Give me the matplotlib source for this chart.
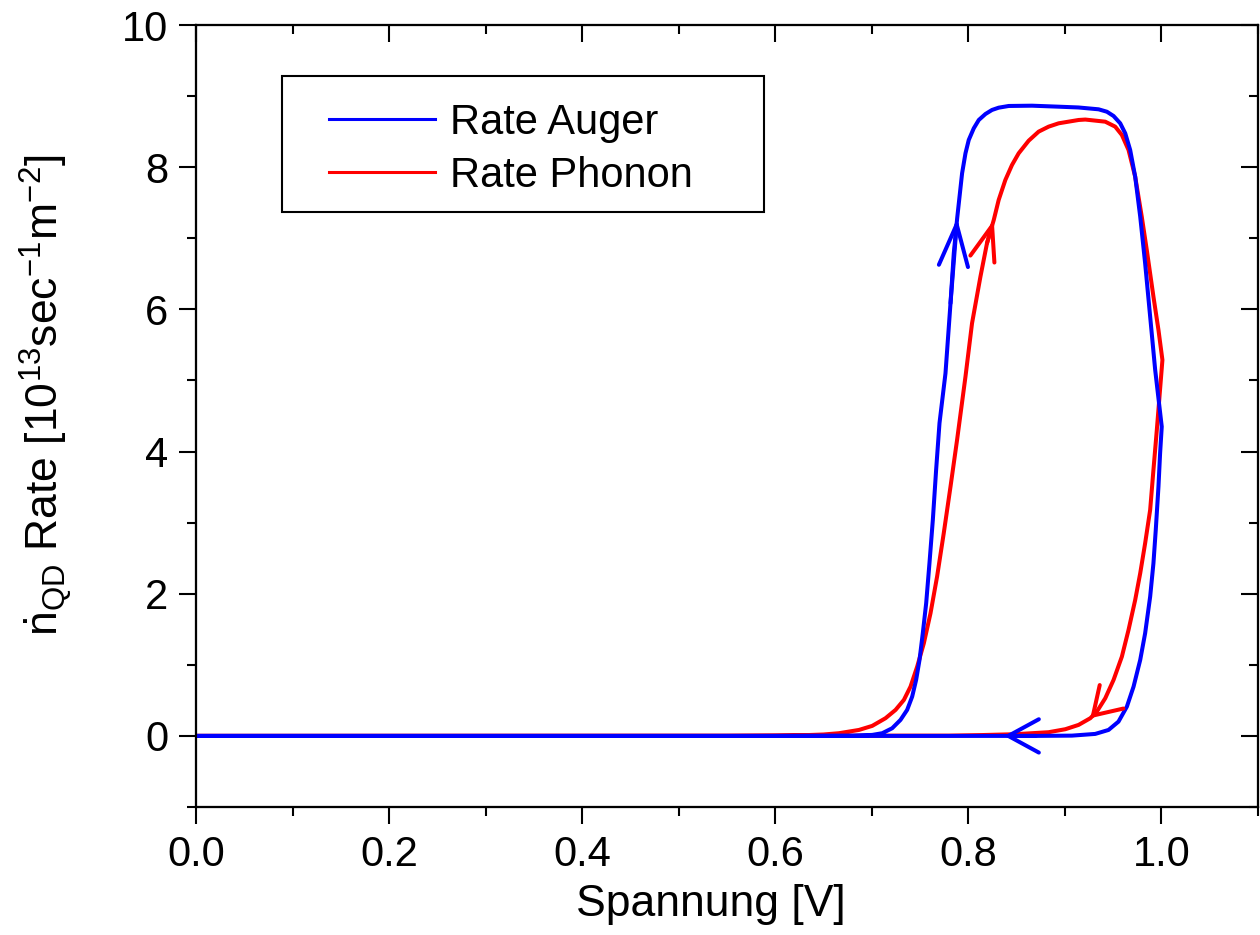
import matplotlib
matplotlib.use("Agg")
import matplotlib.pyplot as plt
from matplotlib.ticker import MultipleLocator
from matplotlib.patches import Rectangle

plt.rcParams['font.family'] = ['Liberation Sans', 'DejaVu Sans']
plt.rcParams['mathtext.fontset'] = 'custom'
plt.rcParams['mathtext.rm'] = 'Liberation Sans'
plt.rcParams['mathtext.it'] = 'Liberation Sans:italic'

# ---- data ----
# Auger rate: forward sweep 0 -> 1.0 V, then backward sweep 1.0 -> 0 V
auger_v = [0.0, 0.60, 0.68, 0.7004, 0.7108, 0.7211, 0.7297, 0.7366, 0.7418, 0.7459,
           0.7494, 0.7528, 0.7563, 0.7597, 0.7632, 0.7666, 0.7701, 0.7763, 0.7815,
           0.7849, 0.7884, 0.7935, 0.7970, 0.8004, 0.8056, 0.8108, 0.8177, 0.8245,
           0.8314, 0.8418, 0.8659, 0.8935, 0.9140, 0.9349, 0.9435, 0.9504, 0.9573,
           0.9625, 0.9676, 0.9728, 0.9780, 0.9831, 0.9883, 0.9935, 1.0003,
           0.9986, 0.9969, 0.9941, 0.9917, 0.9883, 0.9831, 0.9780, 0.9711, 0.9642,
           0.9555, 0.9452, 0.9314, 0.9073, 0.8700, 0.8370, 0.0]
auger_r = [0.0, 0.0, 0.003, 0.014, 0.038, 0.108, 0.225, 0.366, 0.553, 0.788,
           1.069, 1.444, 1.866, 2.429, 3.038, 3.741, 4.400, 5.101, 6.086,
           6.789, 7.281, 7.914, 8.195, 8.383, 8.547, 8.664, 8.748, 8.805,
           8.837, 8.861, 8.865, 8.851, 8.840, 8.814, 8.780, 8.720, 8.617,
           8.476, 8.242, 7.866, 7.304, 6.648, 5.898, 5.148, 4.350,
           3.976, 3.506, 2.897, 2.429, 1.959, 1.444, 1.069, 0.693, 0.412,
           0.201, 0.084, 0.028, 0.004, 0.0, 0.0, 0.0]

# Phonon rate: forward sweep 0 -> 1.0 V, then backward sweep 1.0 -> 0 V
phonon_v = [0.0, 0.55, 0.60, 0.63, 0.65, 0.666, 0.6867, 0.7004, 0.7142, 0.7246,
            0.7332, 0.7401, 0.7470, 0.7539, 0.7608, 0.7676, 0.7745, 0.7815, 0.7883,
            0.7970, 0.8038, 0.8125, 0.8193, 0.8263, 0.8314, 0.8383, 0.8452, 0.8521,
            0.8625, 0.8728, 0.8831, 0.8935, 0.9142, 0.9211, 0.9418, 0.9521, 0.9590,
            0.9659, 0.9728, 0.9796, 0.9848, 0.9917, 0.9969, 1.0010,
            0.9952, 0.9917, 0.9883, 0.9831, 0.9780, 0.9728, 0.9659, 0.9590, 0.9504,
            0.9418, 0.9331, 0.9263, 0.9142, 0.9004, 0.8831, 0.8486, 0.8140, 0.7800,
            0.0]
phonon_r = [0.0, 0.0, 0.004, 0.010, 0.020, 0.038, 0.084, 0.141, 0.249, 0.366,
            0.506, 0.694, 0.975, 1.304, 1.726, 2.241, 2.851, 3.506, 4.163,
            5.053, 5.804, 6.460, 6.930, 7.257, 7.539, 7.820, 8.031, 8.195,
            8.373, 8.500, 8.570, 8.617, 8.664, 8.670, 8.640, 8.570, 8.453,
            8.242, 7.866, 7.304, 6.835, 6.179, 5.710, 5.288,
            4.304, 3.741, 3.179, 2.710, 2.288, 1.913, 1.491, 1.115, 0.788,
            0.530, 0.342, 0.249, 0.155, 0.094, 0.052, 0.024, 0.012, 0.004,
            0.0]

series_labels = ['Rate Auger', 'Rate Phonon']
x_ticks = [0.0, 0.2, 0.4, 0.6, 0.8, 1.0]
x_tick_labels = ['0.0', '0.2', '0.4', '0.6', '0.8', '1.0']
y_ticks = [0, 2, 4, 6, 8, 10]
y_tick_labels = ['0', '2', '4', '6', '8', '10']

# indices (tail, tip) of the direction arrows along each series
auger_arrow_idx = [(18, 20), (58, 59)]
phonon_arrow_idx = [(22, 23), (54, 55)]

# ---- figure ----
fig = plt.figure(figsize=(12.6, 9.35), dpi=100)
ax = fig.add_axes([196 / 1260, 128 / 935, 1062 / 1260, 782 / 935])

BLUE = '#0000ff'
RED = '#ff0000'
LW = 2.9

lp, = ax.plot(phonon_v, phonon_r, color=RED, lw=LW, solid_joinstyle='round', zorder=3)
la, = ax.plot(auger_v, auger_r, color=BLUE, lw=LW, solid_joinstyle='round', zorder=4)


def arrow(vs, rs, i0, i1, color, hl, hw):
    ax.annotate('', xy=(vs[i1], rs[i1]), xytext=(vs[i0], rs[i0]),
                arrowprops=dict(arrowstyle=f'->,head_length={hl},head_width={hw}',
                                color=color, lw=LW, shrinkA=0, shrinkB=0,
                                mutation_scale=1, capstyle='round',
                                joinstyle='round'), zorder=5)


arrow(auger_v, auger_r, *auger_arrow_idx[0], BLUE, 30, 10.5)
arrow(auger_v, auger_r, *auger_arrow_idx[1], BLUE, 22, 12)
arrow(phonon_v, phonon_r, *phonon_arrow_idx[0], RED, 25, 9)
arrow(phonon_v, phonon_r, *phonon_arrow_idx[1], RED, 19, 12)

ax.set_xlim(0.0, 1.1)
ax.set_ylim(-1, 10)

FS = 30
ax.set_xticks(x_ticks)
ax.set_xticklabels(x_tick_labels, fontsize=FS)
ax.set_yticks(y_ticks)
ax.set_yticklabels(y_tick_labels, fontsize=FS)
ax.xaxis.set_minor_locator(MultipleLocator(0.1))
ax.yaxis.set_minor_locator(MultipleLocator(1))
ax.tick_params(which='both', direction='out', width=1.5, top=False, right=False)
ax.tick_params(which='major', length=12, pad=8)
ax.tick_params(which='minor', length=6.5)
for s in ax.spines.values():
    s.set_linewidth(1.5)

# inward ticks on top and right
axr = ax.twinx()
axr.set_ylim(ax.get_ylim())
axr.set_yticks(y_ticks)
axr.yaxis.set_minor_locator(MultipleLocator(1))
axr.tick_params(which='both', direction='in', width=1.5, labelright=False)
axr.tick_params(which='major', length=12)
axr.tick_params(which='minor', length=6.5)
axt = ax.twiny()
axt.set_xlim(ax.get_xlim())
axt.set_xticks(x_ticks)
axt.xaxis.set_minor_locator(MultipleLocator(0.1))
axt.tick_params(which='both', direction='in', width=1.5, labeltop=False)
axt.tick_params(which='major', length=12)
axt.tick_params(which='minor', length=6.5)
for a in (axr, axt):
    for s in a.spines.values():
        s.set_linewidth(1.5)

ax.set_xlabel('Spannung [V]', fontsize=32)
ax.xaxis.set_label_coords((711 - 196) / 1062, (807 - 884) / 782)
ax.set_ylabel(r'$\dot{\mathrm{n}}_{\mathrm{QD}}$ Rate [10$^{\mathrm{13}}$sec$^{\mathrm{-1}}$m$^{\mathrm{-2}}$]',
              fontsize=32)
ax.yaxis.set_label_coords((74 - 196) / 1062, (807 - 395) / 782)

# legend
leg = ax.legend([la, lp], series_labels, loc='upper left',
                bbox_to_anchor=((329 - 196) / 1062, (807 - 103) / 782),
                frameon=False, fontsize=FS, handlelength=2.55, handletextpad=0.36,
                labelspacing=0.31, borderpad=0, borderaxespad=0)
for h in leg.get_lines():
    h.set_linewidth(2.2)
ax.add_patch(Rectangle(((282 - 196) / 1062, (807 - 212) / 782),
                       (764 - 282) / 1062, (212 - 76) / 782,
                       transform=ax.transAxes, fill=False, edgecolor='black',
                       lw=1.5, zorder=6))

fig.savefig('out.png', dpi=100)
